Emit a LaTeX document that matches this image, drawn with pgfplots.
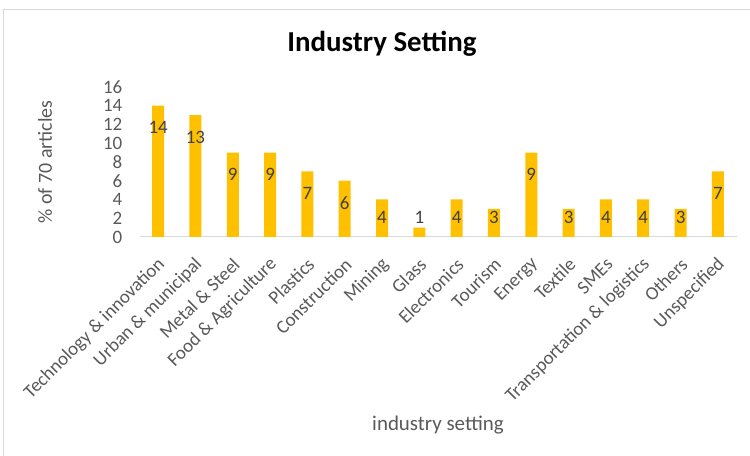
\documentclass[border=0pt]{standalone}
\usepackage{pgfplots}
\pgfplotsset{compat=1.18}
\usepackage{fontspec}
\setmainfont{Carlito}
\definecolor{bargold}{HTML}{FFC000}
\definecolor{txtgray}{HTML}{595959}
\definecolor{lblgray}{HTML}{404040}
\definecolor{framegray}{HTML}{D9D9D9}
\begin{document}
\begin{tikzpicture}[x=1bp,y=1bp]
\useasboundingbox (0,0) rectangle (750,456);
\draw[framegray,line width=1.5bp] (3.5,0) -- (3.5,446.5) -- (750,446.5);
\begin{axis}[
  at={(139.5bp,219bp)}, anchor=south west,
  scale only axis, width=597bp, height=150bp,
  xmin=-0.5, xmax=15.5, ymin=0, ymax=16,
  axis x line*=bottom, axis y line*=left,
  x axis line style={draw=framegray, line width=1bp},
  y axis line style={draw=none},
  major tick length=0pt,
  ytick={0,2,...,16},
  xtick={0,...,15},
  xticklabels={Technology \& innovation, Urban \& municipal, Metal \& Steel, Food \& Agriculture, Plastics, Construction, Mining, Glass, Electronics, Tourism, Energy, Textile, SMEs, Transportation \& logistics, Others, Unspecified},
  xticklabel style={rotate=45, anchor=east, inner sep=0pt, font=\fontsize{19}{19}\selectfont, text=txtgray, xshift=-14.5bp, yshift=-19.9bp},
  yticklabel style={anchor=east, inner sep=0pt, font=\fontsize{19}{19}\selectfont, text=txtgray, xshift=-17bp},
  /pgf/number format/assume math mode=true,
  clip=false,
]
\addplot[ybar, bar width=12bp, fill=bargold, draw=none] coordinates {
(0,14) (1,13) (2,9) (3,9) (4,7) (5,6) (6,4) (7,1) (8,4) (9,3) (10,9) (11,3) (12,4) (13,4) (14,3) (15,7)};
\addplot[only marks, mark=none, nodes near coords, point meta=explicit symbolic,
  every node near coord/.append style={anchor=center, inner sep=0pt, text=lblgray, font=\fontsize{19}{19}\selectfont}]
  table[meta=lab] {
x y lab
0 11.65 14
1 10.65 13
2 6.65 9
3 6.65 9
4 4.65 7
5 3.65 6
6 2.1 4
7 2.1 1
8 2.1 4
9 2.1 3
10 6.65 9
11 2.1 3
12 2.1 4
13 2.1 4
14 2.1 3
15 4.65 7
};
\end{axis}
\node[font=\bfseries\fontsize{29}{29}\selectfont] at (382,412) {Industry Setting};
\node[font=\fontsize{21}{21}\selectfont, text=txtgray] at (438,31) {industry setting};
\node[font=\fontsize{20}{20}\selectfont, text=txtgray, rotate=90] at (45,294) {\% of 70 articles};
\end{tikzpicture}
\end{document}
